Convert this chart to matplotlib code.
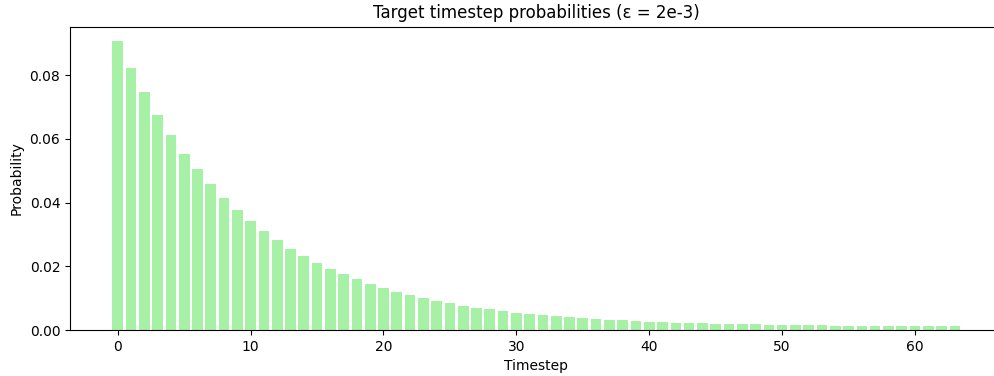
import matplotlib.pyplot as plt

timesteps = list(range(64))
probs = [
    0.0907, 0.0822, 0.0746, 0.0675, 0.0613, 0.0554, 0.0504, 0.0457,
    0.0413, 0.0376, 0.0341, 0.0310, 0.0282, 0.0253, 0.0231, 0.0210,
    0.0192, 0.0175, 0.0160, 0.0145, 0.0132, 0.0119, 0.0110, 0.0101,
    0.0091, 0.0085, 0.0075, 0.0069, 0.0066, 0.0060, 0.0053, 0.0050,
    0.0047, 0.0044, 0.0041, 0.0038, 0.0035, 0.0031, 0.0031, 0.0028,
    0.0025, 0.0025, 0.0022, 0.0022, 0.0022, 0.0019, 0.0019, 0.0019,
    0.0019, 0.0016, 0.0016, 0.0016, 0.0016, 0.0016, 0.0013, 0.0013,
    0.0013, 0.0013, 0.0013, 0.0013, 0.0013, 0.0013, 0.0013, 0.0013,
]


def main():
    fig = plt.figure(figsize=(9.95, 3.76), dpi=100)
    # the original screenshot cuts off the right edge of the axes
    ax = fig.add_axes([0.0704, 0.1223, 0.9372, 0.8067])
    ax.bar(timesteps, probs, color='lightgreen', alpha=0.8)
    ax.set_xlabel('Timestep')
    ax.set_ylabel('Probability')
    ax.set_title('Target timestep probabilities (ε = 2e-3)')
    fig.savefig('out.png', dpi=100)


if __name__ == '__main__':
    main()
